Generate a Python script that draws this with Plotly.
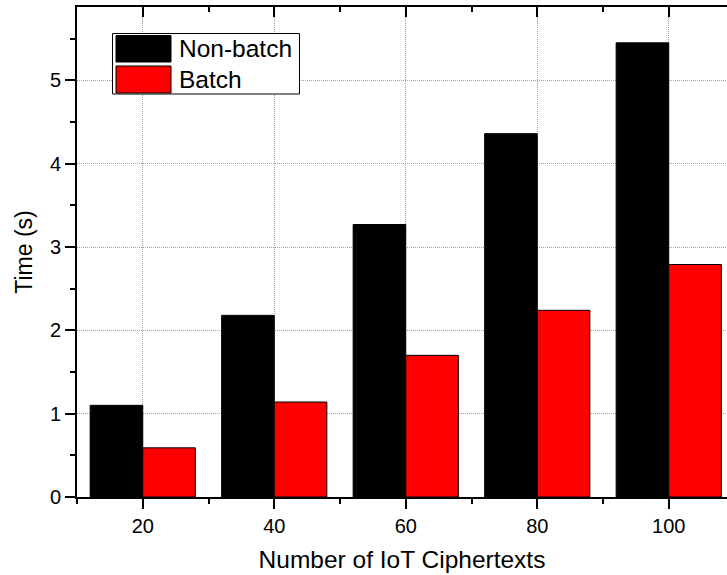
import plotly.graph_objects as go

# Data
ciphertexts = [20, 40, 60, 80, 100]
non_batch = [1.10, 2.18, 3.27, 4.36, 5.45]
batch = [0.59, 1.14, 1.70, 2.24, 2.79]
series_names = ["Non-batch", "Batch"]
series_colors = ["#000000", "#ff0000"]

W, H = 727, 575
M_L, M_R, M_T, M_B = 77, 0, 7, 78
PW, PH = W - M_L - M_R, H - M_T - M_B

FONT = "Liberation Sans, Arial, sans-serif"


def px_x(x):
    return (x - M_L) / PW


def px_y(y):
    return 1 - (y - M_T) / PH


fig = go.Figure()
for name, vals, col in zip(series_names, [non_batch, batch], series_colors):
    fig.add_trace(go.Bar(
        x=ciphertexts, y=vals, name=name,
        marker=dict(color=col, line=dict(color="#000000", width=1)),
        showlegend=False,
    ))

# helper trace so the top (mirror) axis is drawn
fig.add_trace(go.Scatter(x=[], y=[], xaxis="x2", yaxis="y",
                         showlegend=False, hoverinfo="skip"))

axis_common = dict(
    showline=True, linecolor="#000000", linewidth=2,
    tickfont=dict(family=FONT, size=20, color="#000000"),
)
grid_style = dict(showgrid=True, gridcolor="#a0a0a0", gridwidth=1,
                  griddash="1px,1px")

fig.update_layout(
    width=W, height=H,
    margin=dict(l=M_L, r=M_R, t=M_T, b=M_B),
    paper_bgcolor="white", plot_bgcolor="white",
    barmode="group", bargap=0.2, bargroupgap=0,
    xaxis=dict(
        range=[10, 10 + 20 * PW / 131.5],
        tickmode="array", tickvals=ciphertexts,
        ticks="outside", ticklen=10, tickwidth=2, tickcolor="#000000",
        minor=dict(dtick=10, tick0=0, ticks="outside", ticklen=5,
                   tickwidth=2, tickcolor="#000000", showgrid=False),
        zeroline=False,
        title=dict(text="Number of IoT Ciphertexts",
                   font=dict(family=FONT, size=24.5, color="#000000"),
                   standoff=15),
        **grid_style,
        **axis_common,
    ),
    xaxis2=dict(
        overlaying="x", side="top", anchor="y", matches="x",
        showticklabels=False,
        tickmode="array", tickvals=ciphertexts,
        ticks="inside", ticklen=10, tickwidth=2, tickcolor="#000000",
        minor=dict(dtick=10, tick0=0, ticks="inside", ticklen=5,
                   tickwidth=2, tickcolor="#000000", showgrid=False),
        showgrid=False, zeroline=False,
        showline=True, linecolor="#000000", linewidth=2,
    ),
    yaxis=dict(
        range=[0, 5.88], dtick=1, tick0=0,
        ticks="outside", ticklen=10, tickwidth=2, tickcolor="#000000",
        minor=dict(dtick=0.5, tick0=0, ticks="outside", ticklen=5,
                   tickwidth=2, tickcolor="#000000", showgrid=False),
        zeroline=False,
        title=dict(text="Time (s)",
                   font=dict(family=FONT, size=23, color="#000000"),
                   standoff=11),
        **grid_style,
        **axis_common,
    ),
)

# Legend box drawn with large swatches
shapes = [dict(type="rect", xref="paper", yref="paper",
               x0=px_x(112.5), x1=px_x(299.5), y0=px_y(94), y1=px_y(33.5),
               line=dict(color="#000000", width=1), fillcolor="white",
               layer="above")]
annotations = []
rows = [(35.5, 62), (66, 93)]
for (ya, yb), name, col in zip(rows, series_names, series_colors):
    shapes.append(dict(type="rect", xref="paper", yref="paper",
                       x0=px_x(116), x1=px_x(171), y0=px_y(yb), y1=px_y(ya),
                       line=dict(color="#000000", width=1), fillcolor=col,
                       layer="above"))
    annotations.append(dict(xref="paper", yref="paper",
                            x=px_x(177), y=px_y((ya + yb) / 2),
                            xanchor="left", yanchor="middle", showarrow=False,
                            text=name,
                            font=dict(family=FONT, size=24.5, color="#000000")))
fig.update_layout(shapes=shapes, annotations=annotations)

fig.write_html("out.html")
